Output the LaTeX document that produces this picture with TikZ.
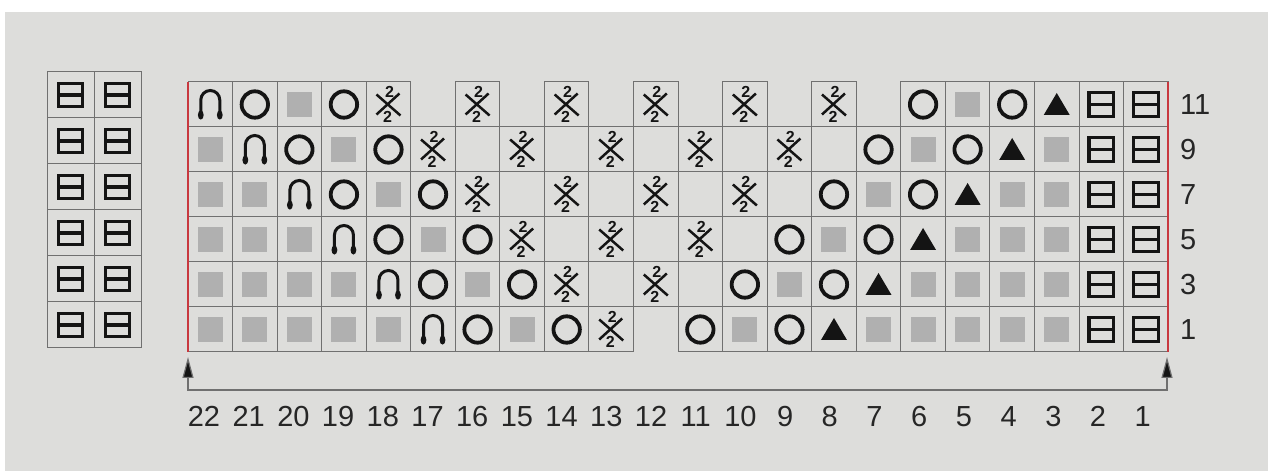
\documentclass[tikz,border=0pt]{standalone}
\usepackage{fontspec}
\setmainfont{Liberation Sans}
\usetikzlibrary{arrows.meta}
\definecolor{bgc}{HTML}{DDDDDB}
\definecolor{gridc}{HTML}{707070}
\definecolor{purlc}{HTML}{B0B0B0}
\definecolor{redc}{HTML}{C8383F}
\definecolor{inkc}{HTML}{141414}
\tikzset{
  gridline/.style={draw=gridc, line width=1pt},
  ink/.style={draw=inkc},
  redline/.style={draw=redc, line width=2pt},
  twolbl/.style={font=\fontsize{16}{16}\selectfont\bfseries, inner sep=0pt, text=inkc},
  numlbl/.style={font=\fontsize{29}{29}\selectfont, inner sep=0pt, text=black!85},
  bracket/.style={draw=gridc, line width=1.2pt},
}
\def\kcw{44.55}
\def\kchw{22.27}
\def\kchh{22.5}
\newcommand\kcBorder{\draw[gridline] (-\kchw,-\kchh) rectangle (\kchw,\kchh);}
\newcommand\kcE{\kcBorder}
\newcommand\kcN{}
\newcommand\kcP{\kcBorder\fill[purlc] (-12.5,-12.5) rectangle (12.5,12.5);}
\newcommand\kcO{\kcBorder\draw[ink, line width=3.8pt] (0,0) circle (13.2);}
\newcommand\kcA{\kcBorder
  \draw[ink, line width=3pt] (-9.5,-10) -- (-9.5,4.5) arc (180:0:9.5) -- (9.5,-10);
  \fill[inkc] (-9.5,-10.5) ellipse (2.9 and 4.6);
  \fill[inkc] (9.5,-10.5) ellipse (2.9 and 4.6);}
\newcommand\kcT{\kcBorder\fill[inkc] (-13,-10.5) -- (13,-10.5) -- (0,11.5) -- cycle;}
\newcommand\kcB{\kcBorder\draw[ink, line width=3.2pt] (-12.3,-11.8) rectangle (12.3,11.8) (-12.3,0) -- (12.3,0);}
\newcommand\kcX{\kcBorder
  \draw[ink, line width=2.5pt] (-12,10) -- (12,-11) (11,11) -- (-12,-10);
  \node[twolbl] (x\r-\i-a) at (1,12.5) {2};
  \node[twolbl] (x\r-\i-b) at (-1,-12.5) {2};}
\begin{document}
\begin{tikzpicture}[x=1pt,y=1pt]
\useasboundingbox (0,0) rectangle (1268,471);
\fill[white] (0,0) rectangle (1268,471);
\fill[bgc] (5,0) rectangle (1268,459);
% left small chart
\begingroup
\def\kchw{23.5}\def\kchh{23}
\foreach \r in {1,...,6}{
  \foreach \i in {1,2}{
    \pgfmathsetmacro\cx{47+47*(\i-0.5)}
    \pgfmathsetmacro\cy{399-46*(\r-0.5)}
    \begin{scope}[shift={(\cx,\cy)}]\kcB\end{scope}
  }
}
\endgroup
% main chart
\foreach \r/\codes in {
  1/{A,O,P,O,X,N,X,N,X,N,X,N,X,N,X,N,O,P,O,T,B,B},
  2/{P,A,O,P,O,X,E,X,E,X,E,X,E,X,E,O,P,O,T,P,B,B},
  3/{P,P,A,O,P,O,X,E,X,E,X,E,X,E,O,P,O,T,P,P,B,B},
  4/{P,P,P,A,O,P,O,X,E,X,E,X,E,O,P,O,T,P,P,P,B,B},
  5/{P,P,P,P,A,O,P,O,X,E,X,E,O,P,O,T,P,P,P,P,B,B},
  6/{P,P,P,P,P,A,O,P,O,X,N,O,P,O,T,P,P,P,P,P,B,B}}{
  \foreach \c [count=\i] in \codes {
    \pgfmathsetmacro\cx{188+\kcw*(\i-0.5)}
    \pgfmathsetmacro\cy{389-45*(\r-0.5)}
    \begin{scope}[shift={(\cx,\cy)}]\csname kc\c\endcsname\end{scope}
  }
}
% red edges
\coordinate (lt) at (188,389);
\coordinate (lb) at (188,119);
\coordinate (rt) at (1168,389);
\coordinate (rb) at (1168,119);
\draw[redline] (lt) -- (lb);
\draw[redline] (rt) -- (rb);
% row numbers
\foreach \lab [count=\r] in {11,9,7,5,3,1}{
  \pgfmathsetmacro\cy{389-45*(\r-0.5)-10.4}
  \node[numlbl, anchor=base west] (row\lab) at (1180,\cy) {\lab};
}
% bracket with arrows
\coordinate (al) at (188,114);
\coordinate (bl) at (188,81);
\coordinate (br) at (1167,81);
\coordinate (ar) at (1167,114);
\draw[bracket, {Triangle[width=11pt,length=21pt,fill=inkc]}-{Triangle[width=11pt,length=21pt,fill=inkc]}] (al) -- (bl) -- (br) -- (ar);
% column numbers
\foreach \i in {1,...,22}{
  \pgfmathtruncatemacro\lab{23-\i}
  \pgfmathsetmacro\cx{204+44.7*(\i-1)}
  \node[numlbl, anchor=base] (col\lab) at (\cx,45) {\lab};
}
\end{tikzpicture}
\end{document}
